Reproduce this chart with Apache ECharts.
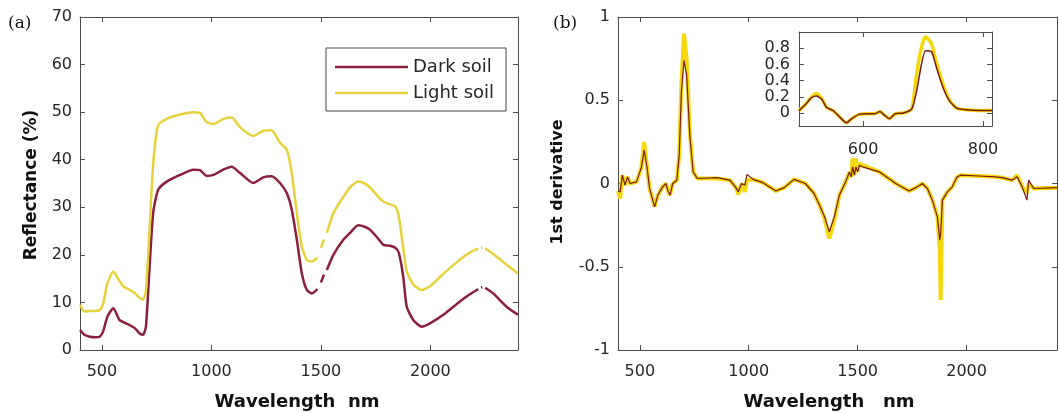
<!DOCTYPE html>
<html>
<head>
<meta charset="utf-8">
<script src="https://cdn.jsdelivr.net/npm/echarts@6/dist/echarts.min.js"></script>
<style>
  html, body { margin: 0; padding: 0; background: #fff; }
  #chart { width: 1059px; height: 413px; }
</style>
</head>
<body>
<div id="chart"></div>
<script>
// (a) reflectance spectra, null = removed water band
const wlA = [400, 420, 445, 470, 490, 505, 525, 552, 580, 600, 628, 650, 674, 688, 701, 716, 734, 757, 796, 857,
  918, 948, 978, 1009, 1054, 1093, 1131, 1192, 1237, 1275, 1313, 1344, 1367, 1390, 1413, 1436, 1459, 1484, 1490, 1500,
  1514, 1520, 1527, 1557, 1600, 1633, 1670, 1700, 1724, 1760, 1785, 1815, 1840, 1856, 1876, 1892, 1922, 1960, 1998, 2059,
  2135, 2180, 2218, 2224, 2231, 2237, 2244, 2250, 2287, 2348, 2400];
const darkSoil = [4.2, 3.2, 2.8, 2.7, 2.8, 3.8, 7.0, 8.8, 6.3, 5.8, 5.2, 4.6, 3.4, 3.2, 4.9, 16.1, 28.8, 33.7, 35.4, 36.8,
  37.9, 37.8, 36.6, 36.8, 37.9, 38.5, 37.2, 35.1, 36.3, 36.5, 35.1, 33.0, 29.5, 23.2, 16.1, 12.6, 11.9, 12.8, null, 14.2,
  15.8, null, 16.8, 20.0, 23.0, 24.6, 26.2, 25.9, 25.3, 23.5, 22.1, 21.9, 21.5, 20.4, 15.4, 9.1, 6.3, 4.9, 5.6, 7.4,
  10.2, 11.7, 12.8, null, 13.1, 13.2, null, 13.1, 11.9, 9.1, 7.4];
const lightSoil = [9.5, 8.1, 8.2, 8.2, 8.4, 9.6, 14.0, 16.5, 14.5, 13.3, 12.6, 12.0, 10.9, 10.6, 12.5, 24.0, 39.0, 47.3, 48.6, 49.5,
  50.0, 49.8, 47.9, 47.5, 48.6, 48.9, 46.8, 45.0, 46.1, 46.2, 43.6, 42.1, 37.2, 28.8, 21.7, 18.9, 18.6, 19.4, null, 21.5,
  23.2, null, 24.6, 28.8, 32.0, 34.2, 35.4, 35.0, 34.2, 32.3, 31.2, 30.6, 30.2, 28.0, 21.5, 16.5, 13.8, 12.6, 13.4, 16.0,
  19.0, 20.5, 21.3, null, 21.5, 21.6, null, 21.4, 20.2, 17.9, 16.1];

// (b) first derivative
const wlB = [400, 410, 420, 432, 444, 455, 485, 508, 520, 533, 545, 568, 583, 605, 620, 628, 639, 651, 670, 681,
  691, 703, 715, 730, 745, 764, 854, 914, 941, 952, 967, 982, 992, 1020, 1065, 1125, 1163, 1208, 1260, 1300,
  1325, 1348, 1370, 1393, 1416, 1447, 1462, 1470, 1477, 1485, 1492, 1500, 1508, 1523, 1599, 1675, 1736, 1767, 1797, 1820,
  1843, 1866, 1877, 1881, 1889, 1912, 1934, 1957, 1973, 2056, 2133, 2163, 2209, 2232, 2255, 2277, 2285, 2308, 2415];
const darkDeriv = [-0.045, -0.05, 0.05, -0.01, 0.04, 0.0, 0.01, 0.1, 0.2, 0.1, -0.03, -0.14, -0.07, -0.02, 0.0, -0.04, -0.07, 0.0, 0.02, 0.17,
  0.55, 0.74, 0.65, 0.28, 0.07, 0.03, 0.035, 0.02, -0.025, -0.05, 0.0, -0.01, 0.055, 0.025, 0.005, -0.045, -0.025, 0.025, 0.0, -0.06,
  -0.13, -0.2, -0.29, -0.2, -0.07, 0.016, 0.07, 0.04, 0.1, 0.05, 0.1, 0.07, 0.11, 0.1, 0.07, 0.0, -0.045, -0.025, 0.0, -0.03,
  -0.1, -0.2, -0.34, -0.3, -0.1, -0.05, -0.02, 0.04, 0.05, 0.045, 0.04, 0.035, 0.02, 0.04, -0.02, -0.1, 0.02, -0.03, -0.025];
const lightDeriv = [-0.045, -0.09, 0.05, -0.01, 0.04, 0.0, 0.01, 0.1, 0.25, 0.1, -0.03, -0.14, -0.07, -0.02, 0.0, -0.04, -0.07, 0.0, 0.02, 0.17,
  0.6, 0.9, 0.75, 0.3, 0.07, 0.03, 0.03, 0.02, -0.025, -0.065, 0.0, -0.05, 0.02, 0.025, 0.005, -0.045, -0.025, 0.025, 0.0, -0.06,
  -0.13, -0.21, -0.33, -0.22, -0.07, 0.016, 0.07, 0.04, 0.15, 0.05, 0.15, 0.07, 0.12, 0.11, 0.07, 0.0, -0.045, -0.025, 0.0, -0.03,
  -0.1, -0.2, -0.4, -0.7, -0.1, -0.05, -0.02, 0.04, 0.05, 0.045, 0.04, 0.035, 0.02, 0.05, -0.02, -0.06, 0.0, -0.03, -0.025];

// inset of (b), 490-815 nm
const wlInset = [493, 503, 514, 522, 531, 539, 550, 561, 572, 581, 592, 606, 619, 628, 636, 644, 653, 667, 681, 689,
  697, 704, 714, 722, 733, 744, 756, 772, 794, 815];
const darkInset = [0.03, 0.1, 0.19, 0.21, 0.17, 0.07, 0.03, -0.05, -0.12, -0.07, -0.02, -0.01, -0.01, 0.02, -0.03, -0.07, -0.01, 0.0, 0.05, 0.26,
  0.59, 0.77, 0.76, 0.57, 0.32, 0.15, 0.06, 0.04, 0.03, 0.03];
const lightInset = [0.03, 0.1, 0.2, 0.24, 0.18, 0.07, 0.03, -0.05, -0.12, -0.07, -0.02, -0.01, -0.01, 0.02, -0.03, -0.07, -0.01, 0.0, 0.05, 0.47,
  0.8, 0.94, 0.86, 0.63, 0.36, 0.16, 0.06, 0.04, 0.03, 0.03];

const wlTicks = [500, 1000, 1500, 2000];
const insetXTicks = [600, 800];
const insetYTicks = [0, 0.2, 0.4, 0.6, 0.8];

const pairs = (xs, ys) => xs.map((x, i) => [x, ys[i]]);

const font = 'DejaVu Sans';
const axisGray = '#4d4d4d';
const labelColor = '#262626';
const darkRed = '#8b1f3d';
const yellow = '#e6d33c';

// one box axis; mirror = top / right copy with ticks only
function xAxisOf(grid, min, max, ticks, mirror, margin) {
  return {
    type: 'value', gridIndex: grid, min: min, max: max,
    position: mirror ? 'top' : 'bottom',
    splitLine: { show: false },
    axisLine: { show: true, onZero: false, lineStyle: { color: axisGray, width: 1 } },
    axisTick: { show: true, inside: true, length: 5, customValues: ticks, lineStyle: { color: axisGray } },
    axisLabel: {
      show: !mirror, customValues: ticks, margin: margin || 14,
      color: labelColor, fontSize: 16, fontFamily: font,
      formatter: (v) => String(v)
    }
  };
}

function yAxisOf(grid, min, max, interval, ticks, mirror, margin) {
  const ax = {
    type: 'value', gridIndex: grid, min: min, max: max,
    position: mirror ? 'right' : 'left',
    splitLine: { show: false },
    axisLine: { show: true, onZero: false, lineStyle: { color: axisGray, width: 1 } },
    axisTick: { show: true, inside: true, length: 5, lineStyle: { color: axisGray } },
    axisLabel: {
      show: !mirror, margin: margin || 8,
      color: labelColor, fontSize: 16, fontFamily: font,
      formatter: (v) => String(Math.round(v * 100) / 100)
    }
  };
  if (interval) ax.interval = interval;
  if (ticks) {
    ax.axisTick.customValues = ticks;
    ax.axisLabel.customValues = ticks;
  }
  return ax;
}

function title(text, x, y, size, rotate) {
  return {
    type: 'text', x: x, y: y, rotation: rotate ? Math.PI / 2 : 0, z: 10,
    style: {
      text: text, fill: '#111', font: 'bold ' + size + 'px "' + font + '"',
      textAlign: 'center', textVerticalAlign: 'middle', align: 'center', verticalAlign: 'middle'
    }
  };
}

function panelTag(text, x) {
  return {
    type: 'text', x: x, y: 24, z: 10,
    style: {
      text: text, fill: '#111', font: '17px "DejaVu Serif"',
      textVerticalAlign: 'middle', verticalAlign: 'middle'
    }
  };
}

function line(name, x, y, data, color, width, smooth) {
  return {
    name: name, type: 'line', xAxisIndex: x, yAxisIndex: y,
    data: data, symbol: 'none', connectNulls: false,
    smooth: smooth || false,
    lineStyle: { color: color, width: width }, itemStyle: { color: color },
    emphasis: { disabled: true }
  };
}

const option = {
  animation: false,
  backgroundColor: '#fff',
  grid: [
    { left: 80, top: 17, width: 438, height: 333 },
    { left: 618, top: 17, width: 439, height: 333 },
    { left: 799, top: 32, width: 193, height: 94, show: true, backgroundColor: '#fff', borderWidth: 0 }
  ],
  legend: {
    // flat rectangles stand in for the line samples
    data: [
      { name: 'Dark soil', icon: 'rect' },
      { name: 'Light soil', icon: 'rect' }
    ],
    orient: 'vertical', left: 326, top: 48,
    itemWidth: 73, itemHeight: 2.5, itemGap: 6,
    padding: [9, 12, 8, 9],
    borderColor: '#444', borderWidth: 1, backgroundColor: '#fff',
    textStyle: { fontSize: 18, fontFamily: font, color: labelColor, lineHeight: 20 },
    selectedMode: false
  },
  xAxis: [
    xAxisOf(0, 400, 2400, wlTicks, false),
    xAxisOf(0, 400, 2400, wlTicks, true),
    xAxisOf(1, 400, 2415, wlTicks, false),
    xAxisOf(1, 400, 2415, wlTicks, true),
    xAxisOf(2, 493, 815, insetXTicks, false, 16),
    xAxisOf(2, 493, 815, insetXTicks, true)
  ],
  yAxis: [
    yAxisOf(0, 0, 70, 10, null, false),
    yAxisOf(0, 0, 70, 10, null, true),
    yAxisOf(1, -1, 1, 0.5, null, false),
    yAxisOf(1, -1, 1, 0.5, null, true),
    yAxisOf(2, -0.16, 1, null, insetYTicks, false, 9),
    yAxisOf(2, -0.16, 1, null, insetYTicks, true)
  ],
  series: [
    line('Dark soil', 0, 0, pairs(wlA, darkSoil), darkRed, 2.5, 0.2),
    line('Light soil', 0, 0, pairs(wlA, lightSoil), yellow, 2.5, 0.2),
    line('Light soil 1st derivative', 2, 2, pairs(wlB, lightDeriv), '#f4d80c', 4),
    line('Dark soil 1st derivative', 2, 2, pairs(wlB, darkDeriv), '#7a1c12', 1.2),
    line('Light soil inset', 4, 4, pairs(wlInset, lightInset), '#f4d80c', 3.5, 0.2),
    line('Dark soil inset', 4, 4, pairs(wlInset, darkInset), '#7a1c12', 1.5, 0.2)
  ],
  graphic: [
    panelTag('(a)', 8),
    panelTag('(b)', 553),
    title('Reflectance (%)', 32, 185, 17, true),
    title('Wavelength  nm', 297, 402, 18, false),
    title('1st derivative', 558, 182, 16, true),
    title('Wavelength   nm', 829, 402, 18, false)
  ]
};

const chart = echarts.init(document.getElementById('chart'), null, { renderer: 'canvas' });
chart.setOption(option);
</script>
</body>
</html>
